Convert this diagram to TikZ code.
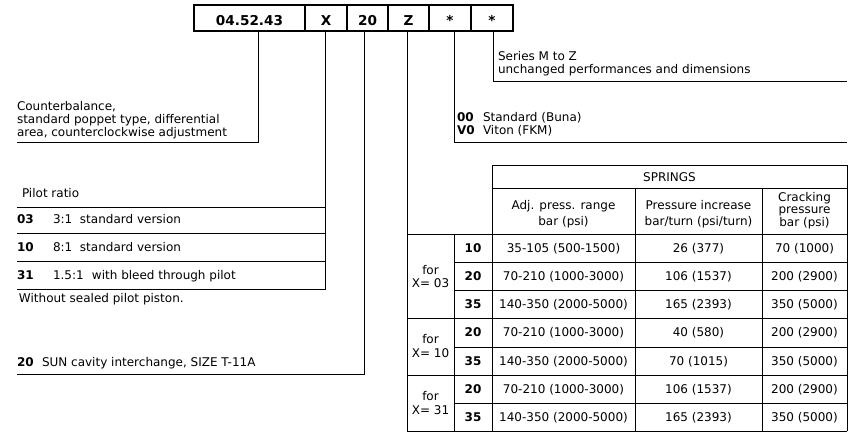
\documentclass[tikz,border=0pt]{standalone}
\usepackage{fontspec}
\setmainfont{DejaVu Sans}
\begin{document}
\begin{tikzpicture}[x=1pt,y=-1pt,
  every node/.style={inner sep=0pt, outer sep=0pt, font=\fontsize{12}{12.5}\selectfont},
  codebox/.style={draw, line width=1.8pt, minimum height=26pt, text height=16pt, text depth=0pt, font=\fontsize{13.6}{15}\selectfont\bfseries},
  wire/.style={line width=0.9pt},
  gridline/.style={line width=0.9pt, line cap=rect},
  txt/.style={anchor=base west},
  ctr/.style={anchor=base}]
\useasboundingbox (0,0) rectangle (851,441);

% code boxes
\node[codebox, minimum width=111pt] (b1) at (249.5,18) {04.52.43};
\node[codebox, minimum width=42pt] (b2) at (326,18) {X};
\node[codebox, minimum width=41pt] (b3) at (367.5,18) {20};
\node[codebox, minimum width=41pt] (b4) at (408.5,18) {Z};
\node[codebox, minimum width=42pt] (b5) at (450,18) {*};
\node[codebox, minimum width=42pt] (b6) at (492,18) {*};

% connectors
\coordinate (k1) at (258,142); \coordinate (k1e) at (17,142);
\coordinate (k2) at (325,289); \coordinate (k2e) at (17,289);
\coordinate (k3) at (364,374); \coordinate (k3e) at (17,374);
\coordinate (k4) at (407,431); \coordinate (k4e) at (847,431);
\coordinate (k5) at (454,142); \coordinate (k5e) at (847,142);
\coordinate (k6) at (493,81);  \coordinate (k6e) at (847,81);
\draw[wire] (b1.south -| k1) -- (k1) -- (k1e);
\draw[wire] (b2.south -| k2) -- (k2) -- (k2e);
\draw[wire] (b3.south -| k3) -- (k3) -- (k3e);
\draw[wire] (b4.south -| k4) -- (k4) -- (k4e);
\draw[wire] (b5.south -| k5) -- (k5) -- (k5e);
\draw[wire] (b6.south -| k6) -- (k6) -- (k6e);

% series
\node[txt] (t6a) at (498,61) {Series M to Z};
\node[txt] (t6b) at (498,74) {unchanged performances and dimensions};
% seals
\node[txt] (t5a) at (457,122) {\makebox[26pt][l]{\bfseries 00}Standard (Buna)};
\node[txt] (t5b) at (457,135) {\makebox[26pt][l]{\bfseries V0}Viton (FKM)};
% counterbalance
\node[txt] (t1a) at (17,111) {Counterbalance,};
\node[txt] (t1b) at (17,123.5) {standard poppet type, differential};
\node[txt] (t1c) at (17,136) {area, counterclockwise adjustment};
% pilot ratio
\node[txt] (t2) at (22,197) {Pilot ratio};
\draw[gridline] (17,207) -- (325,207);
\draw[gridline] (17,233) -- (325,233);
\draw[gridline] (17,261) -- (325,261);
\node[txt] (p1) at (17,223) {\makebox[36pt][l]{\bfseries 03}\makebox[27pt][l]{3:1}standard version};
\node[txt] (p2) at (17,251) {\makebox[36pt][l]{\bfseries 10}\makebox[27pt][l]{8:1}standard version};
\node[txt] (p3) at (17,279) {\makebox[36pt][l]{\bfseries 31}\makebox[39pt][l]{1.5:1}with bleed through pilot};
\node[txt] (p4) at (19,302) {Without sealed pilot piston.};
% cavity
\node[txt] (t3) at (17,366) {\makebox[25pt][l]{\bfseries 20}SUN cavity interchange, SIZE T-11A};

% table grid
\draw[gridline] (492,165) -- (847,165);
\draw[gridline] (492,188) -- (847,188);
\draw[gridline] (407,234) -- (847,234);
\foreach \y in {262,290,347,403} \draw[gridline] (454,\y) -- (847,\y);
\foreach \y in {318,375} \draw[gridline] (407,\y) -- (847,\y);
\draw[gridline] (492,165) -- (492,431);
\draw[gridline] (635,188) -- (635,431);
\draw[gridline] (762,188) -- (762,431);
\draw[gridline] (847,165) -- (847,431);
\draw[gridline] (454,234) -- (454,431);

% header
\node[ctr] (hs) at (669.5,181) {SPRINGS};
\node[ctr] (ha1) at (563.5,209) {Adj. press. range};
\node[ctr] (ha2) at (563.5,225) {bar (psi)};
\node[ctr] (hp1) at (698.5,209) {Pressure increase};
\node[ctr] (hp2) at (698.5,225) {bar/turn (psi/turn)};
\node[ctr] (hc1) at (804.5,201) {Cracking};
\node[ctr] (hc2) at (804.5,213) {pressure};
\node[ctr] (hc3) at (804.5,226) {bar (psi)};

% group labels
\node[ctr] (g1a) at (430.5,274) {for};
\node[ctr] (g1b) at (430.5,287) {X= 03};
\node[ctr] (g2a) at (430.5,343) {for};
\node[ctr] (g2b) at (430.5,357) {X= 10};
\node[ctr] (g3a) at (430.5,400) {for};
\node[ctr] (g3b) at (430.5,414) {X= 31};

% data rows
\foreach \n/\y/\s/\a/\p/\c in {
  1/252/10/{35-105 (500-1500)}/{26 (377)}/{70 (1000)},
  2/280/20/{70-210 (1000-3000)}/{106 (1537)}/{200 (2900)},
  3/308/35/{140-350 (2000-5000)}/{165 (2393)}/{350 (5000)},
  4/336.5/20/{70-210 (1000-3000)}/{40 (580)}/{200 (2900)},
  5/365/35/{140-350 (2000-5000)}/{70 (1015)}/{350 (5000)},
  6/393/20/{70-210 (1000-3000)}/{106 (1537)}/{200 (2900)},
  7/421/35/{140-350 (2000-5000)}/{165 (2393)}/{350 (5000)}}{
  \node[ctr, font=\fontsize{12}{12.5}\selectfont\bfseries] (r\n s) at (473,\y) {\s};
  \node[ctr] (r\n a) at (563.5,\y) {\a};
  \node[ctr] (r\n p) at (698.5,\y) {\p};
  \node[ctr] (r\n c) at (804.5,\y) {\c};
}
\end{tikzpicture}
\end{document}
